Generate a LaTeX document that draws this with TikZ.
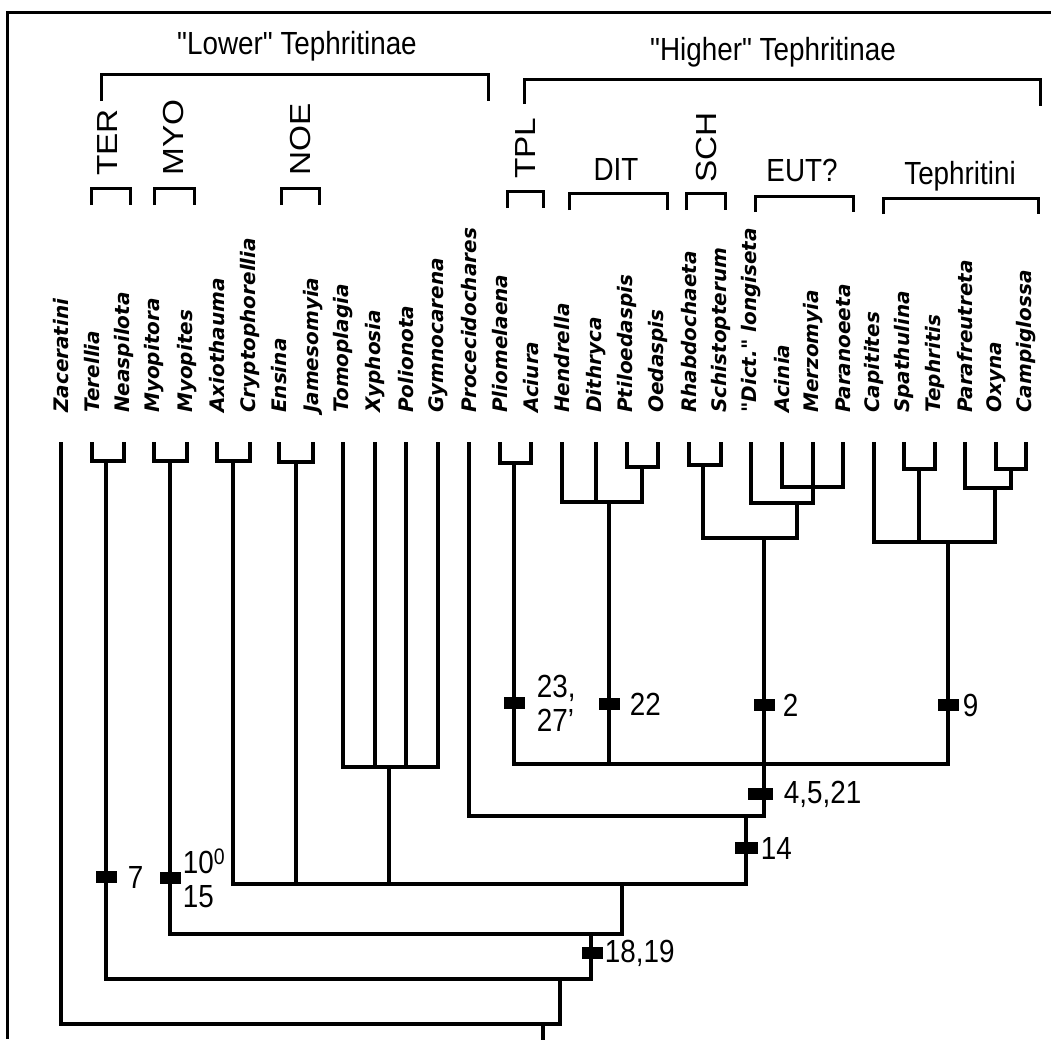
\documentclass[tikz,border=0pt]{standalone}
\usepackage{fontspec}
\setmainfont{Liberation Sans}
\newfontfamily\taxfont{DejaVu Sans}
\usepackage{tikz}
\usetikzlibrary{positioning}

\begin{document}
\begin{tikzpicture}[
    x=1pt, y=-1pt,
    taxon/.style={rotate=90, anchor=west, inner sep=0pt, font=\taxfont\bfseries\itshape\fontsize{20}{24}\selectfont},
    group/.style={inner sep=0pt, xscale=0.87, font=\fontsize{32}{36}\selectfont},
    vgroup/.style={inner sep=0pt, rotate=90, xscale=1.15, anchor=west, font=\fontsize{29}{33}\selectfont},
    branch/.style={line width=3.4pt, line cap=rect},
    brk/.style={line width=3pt},
    charbar/.style={rectangle, fill=black, minimum width=21pt, minimum height=12pt, inner sep=0pt},
    num/.style={inner sep=0pt, align=left, xscale=0.87, font=\fontsize{32}{34}\selectfont}
]
\useasboundingbox (0,0) rectangle (1051,1039);

% Frame
\draw[brk] (1051,12) -| (7,1039);

% Taxa
\foreach \nm/\xx [count=\i from 0] in {Zaceratini/61, Terellia/92, Neaspilota/124, Myopitora/154, Myopites/187,
    Axiothauma/217, Cryptophorellia/250, Ensina/279, Jamesomyia/313, Tomoplagia/343, Xyphosia/375,
    Polionota/406, Gymnocarena/438, Procecidochares/469, Pliomelaena/500, Aciura/531, Hendrella/562,
    Dithryca/596, Ptiloedaspis/627, Oedaspis/658, Rhabdochaeta/689, Schistopterum/721,
    {"Dict." longiseta}/751, Acinia/782, Merzomyia/813, Paranoeeta/843, Capitites/874, Spathulina/904,
    Tephritis/935, Parafreutreta/965, Oxyna/996, Campiglossa/1026}{
  \node[taxon] (t\i) at (\xx,413) {\nm};
  \coordinate (tip\i) at (\xx,444);
}

% Clades of the lower Tephritinae
\coordinate (ter) at (106,461);
\coordinate (myo) at (170,461);
\coordinate (axi) at (233,461);
\coordinate (ens) at (296,462);
\coordinate (tom) at (389,767);
% Clades of the higher Tephritinae
\coordinate (pli) at (514,463);
\coordinate (ptl) at (642,467);
\coordinate (dit) at (609,502);
\coordinate (sch) at (703,465);
\coordinate (aci) at (813,487);
\coordinate (eut) at (797,503);
\coordinate (scheut) at (764,538);
\coordinate (spt) at (919,469);
\coordinate (oxc) at (1011,469);
\coordinate (paf) at (995,488);
\coordinate (tph) at (948,542);
% Backbone
\coordinate (hig) at (764,764);
\coordinate (prc) at (746,816);
\coordinate (low) at (622,884);
\coordinate (myl) at (591,934);
\coordinate (tel) at (560,979);
\coordinate (root) at (543,1024);
\coordinate (base) at (543,1039);

% Sister pairs
\foreach \a/\b/\n in {1/2/ter, 3/4/myo, 5/6/axi, 7/8/ens, 14/15/pli, 18/19/ptl, 20/21/sch, 23/25/aci, 27/28/spt, 30/31/oxc}
  \draw[branch] (tip\a) |- (\n) -| (tip\b);
\foreach \k in {9,...,12}
  \draw[branch] (tip\k) |- (tom);

% DIT, EUT?, SCH and Tephritini
\draw[branch] (tip16) |- (dit) -| (ptl);
\draw[branch] (tip17) |- (dit);
\draw[branch] (tip22) |- (eut) -| (tip24);
\draw[branch] (sch) |- (scheut) -| (eut);
\draw[branch] (tip26) |- (tph) -| (paf);
\draw[branch] (spt) |- (tph);
\draw[branch] (tip29) |- (paf) -| (oxc);

% Higher Tephritinae
\draw[branch] (pli) |- (hig) -| (tph);
\draw[branch] (dit) |- (hig);
\draw[branch] (scheut) -- (hig);

% Backbone
\draw[branch] (tip13) |- (prc);
\draw[branch] (hig) |- (prc);
\draw[branch] (axi) |- (low) -| (prc);
\draw[branch] (ens) |- (low);
\draw[branch] (tom) |- (low);
\draw[branch] (myo) |- (myl) -| (low);
\draw[branch] (ter) |- (tel) -| (myl);
\draw[branch] (tip0) |- (root) -| (tel);
\draw[branch] (root) -- (base);

% Character changes
\node[charbar] (m7) at (106,877) {};
\node[num, right=11pt of m7] (n7) {7};
\node[charbar] (m10) at (170,878) {};
\node[num, right=2pt of m10] (n10) {10\textsuperscript{0}\\15};
\node[charbar] (m23) at (514,703) {};
\node[num, right=12pt of m23] (n23) {23,\\27'};
\node[charbar] (m22) at (609,704) {};
\node[num, right=10pt of m22] (n22) {22};
\node[charbar] (m2) at (764,705) {};
\node[num, right=8pt of m2] (n2) {2};
\node[charbar] (m9) at (948,705) {};
\node[num, right=4pt of m9] (n9) {9};
\node[charbar, minimum width=25pt] (m4) at (760,794) {};
\node[num, right=11pt of m4] (n4) {4,5,21};
\node[charbar, minimum width=23pt] (m14) at (746,848) {};
\node[num, right=3pt of m14] (n14) {14};
\node[charbar] (m18) at (592,953) {};
\node[num, right=2pt of m18] (n18) {18,19};

% Group labels
\node[group] (lower) at (297,46) {\textquotedbl Lower\textquotedbl{} Tephritinae};
\node[group] (higher) at (773,52) {\textquotedbl Higher\textquotedbl{} Tephritinae};
\draw[brk] (101,101) |- (488,74) -- (488,101);
\draw[brk] (524,104) |- (1040,79) -- (1040,106);

\node[vgroup] (terl) at (108,176) {TER};
\node[vgroup] (myol) at (174,176) {MYO};
\node[vgroup] (noel) at (301,176) {NOE};
\node[vgroup] (tpll) at (526,179) {TPL};
\node[vgroup] (schl) at (707,183) {SCH};
\node[group, anchor=base] (ditl) at (616,180) {DIT};
\node[group, anchor=base] (eutl) at (802,181) {EUT?};
\node[group, anchor=base] (tphl) at (960,184) {Tephritini};

\draw[brk] (91,205) |- (130,188) -- (130,205);
\draw[brk] (154,205) |- (194,188) -- (194,205);
\draw[brk] (281,205) |- (319,188) -- (319,205);
\draw[brk] (507,208) |- (543,191) -- (543,208);
\draw[brk] (569,210) |- (667,193) -- (667,210);
\draw[brk] (686,210) |- (725,193) -- (725,210);
\draw[brk] (755,212) |- (853,196) -- (853,212);
\draw[brk] (883,214) |- (1038,198) -- (1038,214);

\end{tikzpicture}
\end{document}
